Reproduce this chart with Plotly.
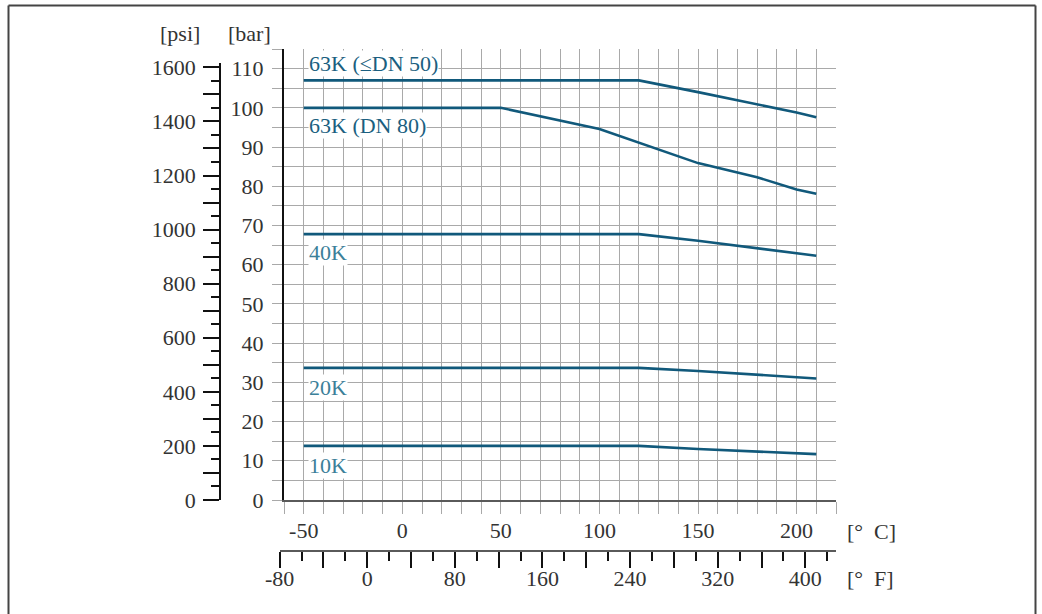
import plotly.graph_objects as go

# readings in degC / bar
T_63K_DN50 = [-50, 120, 150, 180, 200, 210]
P_63K_DN50 = [107, 107, 104.0, 100.9, 98.8, 97.6]

T_63K_DN80 = [-50, 50, 100, 150, 180, 200, 210]
P_63K_DN80 = [100, 100, 94.6, 85.9, 82.3, 79.2, 78.1]

T_40K = [-50, 120, 150, 180, 210]
P_40K = [67.8, 67.8, 66.1, 64.2, 62.3]

T_20K = [-50, 120, 150, 180, 210]
P_20K = [33.7, 33.7, 32.9, 31.9, 31.0]

T_10K = [-50, 120, 150, 180, 210]
P_10K = [13.8, 13.8, 13.0, 12.3, 11.7]

SERIES = [
    ("63K (≤DN 50)", T_63K_DN50, P_63K_DN50),
    ("63K (DN 80)", T_63K_DN80, P_63K_DN80),
    ("40K", T_40K, P_40K),
    ("20K", T_20K, P_20K),
    ("10K", T_10K, P_10K),
]

# label placement (degC, bar) and colour
LABELS = [
    ("63K (≤DN 50)", -48, 111.3, "#1b5f80"),
    ("63K (DN 80)", -48, 95.5, "#1b5f80"),
    ("40K", -48, 63.0, "#3b8099"),
    ("20K", -48, 28.8, "#3b8099"),
    ("10K", -48, 8.7, "#3b8099"),
]

# tick positions / labels (blank text = tick and grid line only)
C_TICKS = list(range(-60, 230, 10))
C_TEXT = [str(v) if v % 50 == 0 else "" for v in C_TICKS]
BAR_TICKS = list(range(0, 120, 5))
BAR_TEXT = [str(v) if v % 10 == 0 else "" for v in BAR_TICKS]
PSI_TICKS = list(range(0, 1700, 100))
PSI_TEXT = [str(v) if v % 200 == 0 else "" for v in PSI_TICKS]
F_TICKS = list(range(-80, 420, 40))
F_TEXT = [str(v) if v % 80 == 0 else "" for v in F_TICKS]

C_MIN, C_MAX = -60, 220
BAR_MAX = 115
PSI_PER_BAR = 14.5038

W, H = 1042, 614
ML, MR, MT, MB = 150, 206, 49, 24
PW, PH = W - ML - MR, H - MT - MB


def px_x(p):
    return (p - ML) / PW


def px_y(p):
    return 1 - (p - MT) / PH


FONT = "Liberation Serif"
LINE = "#11597b"
GRID = "#a9a9a9"
TXT = "#333333"

x0 = px_x(284)
y0 = px_y(500)
f_min = (-80 - 32) / 1.8
fx0 = x0 + (f_min - C_MIN) / (C_MAX - C_MIN) * (1 - x0)
psi_top_frac = 0.97

fig = go.Figure()
for name, t, p in SERIES:
    fig.add_trace(go.Scatter(x=t, y=p, mode="lines", name=name,
                             line=dict(color=LINE, width=2.6), showlegend=False))

# empty trace so the psi and degF scales get drawn
fig.add_trace(go.Scatter(x=[], y=[], xaxis="x2", yaxis="y2", showlegend=False,
                         hoverinfo="skip"))

for text, x, y, col in LABELS:
    fig.add_annotation(x=x, y=y, text=text, showarrow=False, xanchor="left",
                       yanchor="middle", bgcolor="white", borderpad=0,
                       font=dict(family=FONT, size=22, color=col))

fig.update_layout(
    width=W, height=H, margin=dict(l=ML, r=MR, t=MT, b=MB),
    paper_bgcolor="white", plot_bgcolor="rgba(0,0,0,0)",
    font=dict(family=FONT, size=22, color=TXT),
    xaxis=dict(domain=[x0, 1], range=[C_MIN, C_MAX], anchor="y",
               tickmode="array", tickvals=C_TICKS, ticktext=C_TEXT,
               showgrid=True, gridcolor=GRID, gridwidth=1, zeroline=False,
               showline=True, linecolor="#5a5a5a", linewidth=2,
               ticks="outside", ticklen=12, tickcolor=GRID, ticklabelstandoff=-2),
    yaxis=dict(domain=[y0, 1], range=[0, BAR_MAX], anchor="x",
               tickmode="array", tickvals=BAR_TICKS, ticktext=BAR_TEXT,
               showgrid=True, gridcolor=GRID, gridwidth=1, zeroline=False,
               showline=True, linecolor="#111111", linewidth=2,
               ticks="outside", ticklen=10, tickcolor=GRID, ticklabelstandoff=4),
    yaxis2=dict(domain=[y0, y0 + psi_top_frac * (1 - y0)],
                range=[0, psi_top_frac * BAR_MAX * PSI_PER_BAR],
                anchor="free", position=px_x(220), side="left",
                tickmode="array", tickvals=PSI_TICKS, ticktext=PSI_TEXT,
                showgrid=False, zeroline=False, showline=True,
                linecolor="#111111", linewidth=1.5,
                ticks="outside", ticklen=16, tickcolor="#111111", tickwidth=1.5,
                ticklabelstandoff=3,
                minor=dict(tickmode="linear", tick0=0, dtick=50, ticks="outside",
                           ticklen=8, tickcolor="#111111", tickwidth=1.5)),
    xaxis2=dict(domain=[fx0, 1], range=[-80, C_MAX * 1.8 + 32],
                anchor="free", position=px_y(551), side="bottom",
                tickmode="array", tickvals=F_TICKS, ticktext=F_TEXT,
                showgrid=False, zeroline=False, showline=True,
                linecolor="#5a5a5a", linewidth=2,
                ticks="outside", ticklen=16, tickcolor="#111111", tickwidth=1.5,
                ticklabelstandoff=-8,
                minor=dict(tickmode="linear", tick0=-80, dtick=20, ticks="outside",
                           ticklen=9, tickcolor="#111111", tickwidth=1.5)),
)

# unit captions
for text, px, py in [("[psi]", 158, 33), ("[bar]", 226, 33),
                     ("[°  C]", 845, 531), ("[°  F]", 845, 578)]:
    fig.add_annotation(x=px_x(px), y=px_y(py), xref="paper", yref="paper", text=text,
                       showarrow=False, xanchor="left", yanchor="middle",
                       font=dict(family=FONT, size=22, color=TXT))

# outer frame
fl, ft, fr, fb = px_x(8.5), px_y(5.5), px_x(1035.5), px_y(614)
for a, b, c, d in [(fl, ft, fr, ft), (fl, ft, fl, fb), (fr, ft, fr, fb)]:
    fig.add_shape(type="line", xref="paper", yref="paper", x0=a, y0=b, x1=c, y1=d,
                  line=dict(color="#444444", width=2))

fig.write_html("out.html", config={"displayModeBar": False},
               post_script="document.body.style.margin='0';")
